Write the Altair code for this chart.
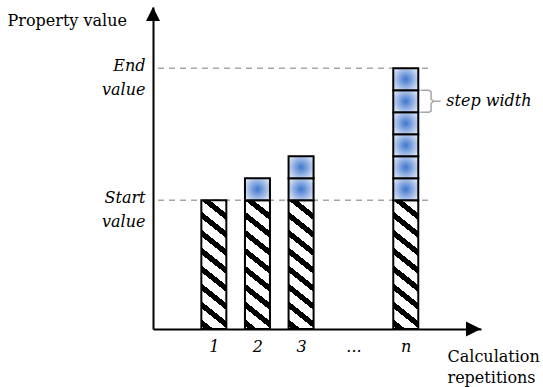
import altair as alt
import pandas as pd

# ---- data ----
rep_labels = ["1", "2", "3", "...", "n"]
rep_pos = [1, 2, 3, 4.2, 5.4]
bar_pos = [1, 2, 3, 5.4]
bar_steps = [0, 1, 2, 6]
start_value = 5.85
step_width = 1.0
n_steps_max = 6
end_value = start_value + n_steps_max * step_width
value_pos = [start_value, end_value]
value_labels = [["Start", "value"], ["End", "value"]]
brace_step_index = 4  # box annotated with "step width"

FONT = "DejaVu Serif"
FS = 16
XMIN, XMAX = -0.28, 7.01
YMIN, YMAX = 0.0, 14.636
W, H = 328, 322

# ---- tables ----
base_df = pd.DataFrame({"x": bar_pos, "y": [0.0] * len(bar_pos), "y2": [start_value] * len(bar_pos)})
box_rows = []
for bx, k in zip(bar_pos, bar_steps):
    for j in range(k):
        box_rows.append({"x": bx, "y": start_value + j * step_width,
                         "y2": start_value + (j + 1) * step_width})
box_df = pd.DataFrame(box_rows)

n_x = bar_pos[-1]
ref_df = pd.DataFrame({"y": value_pos, "x": [XMIN] * 2, "x2": [n_x + 0.58] * 2})

b_top = start_value + (brace_step_index + 1) * step_width
b_bot = start_value + brace_step_index * step_width
b_mid = (b_top + b_bot) / 2
hx, vx, tx = n_x + 0.34, n_x + 0.58, n_x + 0.80
brace_df = pd.DataFrame({
    "x": [hx, vx - 0.05, vx, vx, vx + 0.06, tx, vx + 0.06, vx, vx, vx - 0.05, hx],
    "y": [b_top, b_top, b_top - 0.06, b_mid + 0.09, b_mid, b_mid, b_mid, b_mid - 0.09,
          b_bot + 0.06, b_bot, b_bot],
})
brace_df["o"] = range(len(brace_df))
step_df = pd.DataFrame({"x": [n_x + 0.93], "y": [b_mid], "t": ["step width"]})

# ---- hatch gradient (diagonal stripes) ----
period, black_frac, phase = 0.1208, 0.38, 0.02
stops = []
k = -1
edges = []
while True:
    s = phase + k * period
    if s > 1:
        break
    edges.append((s, s + black_frac * period))
    k += 1
stops.append({"offset": 0, "color": "white"})
for a, b in edges:
    a2, b2 = max(0.0, min(1.0, a)), max(0.0, min(1.0, b))
    if b2 <= 0 or a2 >= 1:
        continue
    stops += [{"offset": a2, "color": "white"}, {"offset": a2, "color": "black"},
              {"offset": b2, "color": "black"}, {"offset": b2, "color": "white"}]
stops.append({"offset": 1, "color": "white"})
hatch = {"gradient": "linear", "x1": 0, "y1": 1, "x2": 0.175, "y2": -0.128, "stops": stops}
blue = {"gradient": "radial", "x1": 0.5, "y1": 0.5, "x2": 0.5, "y2": 0.5, "r1": 0, "r2": 0.62,
        "stops": [{"offset": 0, "color": "#3f76cc"}, {"offset": 0.55, "color": "#9db8e6"},
                  {"offset": 1, "color": "#e6eef9"}]}

# ---- axes ----
x_label_expr = " : ".join(f"datum.value == {p!r} ? '{l}'" for p, l in zip(rep_pos[:-1], rep_labels[:-1])) + f" : '{rep_labels[-1]}'"
y_label_expr = f"datum.value == {start_value!r} ? {value_labels[0]!r} : {value_labels[1]!r}"

x_axis = alt.Axis(values=rep_pos, labelExpr=x_label_expr, ticks=False, grid=False,
                  domainColor="black", domainWidth=2, labelFont=FONT, labelFontSize=FS,
                  labelFontStyle="italic", labelColor="black", labelBaseline="top",
                  labelPadding=9, labelFlush=False, labelOverlap=False,
                  title=["Calculation", "repetitions"], titleFont=FONT, titleFontSize=FS,
                  titleFontWeight="normal", titleColor="black", titleX=294, titleY=32,
                  titleAlign="left", titleBaseline="alphabetic", titleLineHeight=21)
y_axis = alt.Axis(values=value_pos, labelExpr=y_label_expr, ticks=False, grid=False,
                  domainColor="black", domainWidth=2, labelFont=FONT, labelFontSize=FS,
                  labelFontStyle="italic", labelColor="black", labelBaseline="middle",
                  labelPadding=8, labelOffset=-3, labelLineHeight=24, labelFlush=False,
                  labelOverlap=False, labelAlign="right",
                  title="Property value", titleFont=FONT, titleFontSize=FS,
                  titleFontWeight="normal", titleColor="black", titleAngle=0,
                  titleX=-146, titleY=18, titleAlign="left", titleBaseline="alphabetic")

xs = alt.Scale(domain=[XMIN, XMAX], nice=False, zero=False)
ys = alt.Scale(domain=[YMIN, YMAX], nice=False, zero=False)

def X(field="x"):
    return alt.X(f"{field}:Q", scale=xs, axis=x_axis)

def Y(field="y"):
    return alt.Y(f"{field}:Q", scale=ys, axis=y_axis)

rules = alt.Chart(ref_df).mark_rule(color="#a6a6a6", strokeWidth=1.5, strokeDash=[6, 5]).encode(
    x=X(), x2="x2:Q", y=Y())
bars = alt.Chart(base_df).mark_bar(width=25, fill=hatch, stroke="black", strokeWidth=2).encode(
    x=X(), y=Y(), y2="y2:Q")
boxes = alt.Chart(box_df).mark_bar(width=25, fill=blue, stroke="black", strokeWidth=2).encode(
    x=X(), y=Y(), y2="y2:Q")
brace = alt.Chart(brace_df).mark_line(color="#a6a6a6", strokeWidth=1.5).encode(
    x=X(), y=Y(), order="o:Q")
step_text = alt.Chart(step_df).mark_text(font=FONT, fontSize=FS, fontStyle="italic", color="black",
                                         align="left", baseline="middle").encode(
    x=X(), y=Y(), text="t:N")
one = pd.DataFrame({"a": [0]})
arrow_up = alt.Chart(one).mark_point(shape="M0,-1L1,1L-1,1Z", size=196, filled=True, color="black",
                                     opacity=1).encode(x=alt.value(0), y=alt.value(7))
arrow_right = alt.Chart(one).mark_point(shape="M1,0L-1,1L-1,-1Z", size=225, filled=True, color="black",
                                        opacity=1).encode(x=alt.value(W - 7.5), y=alt.value(H))

chart = alt.layer(rules, bars, boxes, brace, step_text, arrow_up, arrow_right).properties(
    width=W, height=H,
    autosize=alt.AutoSizeParams(type="none"),
    padding={"left": 153, "top": 7, "right": 543 - 153 - W, "bottom": 387 - 7 - H},
).configure_view(strokeWidth=0)

chart.save("out.html", embed_options={"renderer": "svg", "actions": False})
